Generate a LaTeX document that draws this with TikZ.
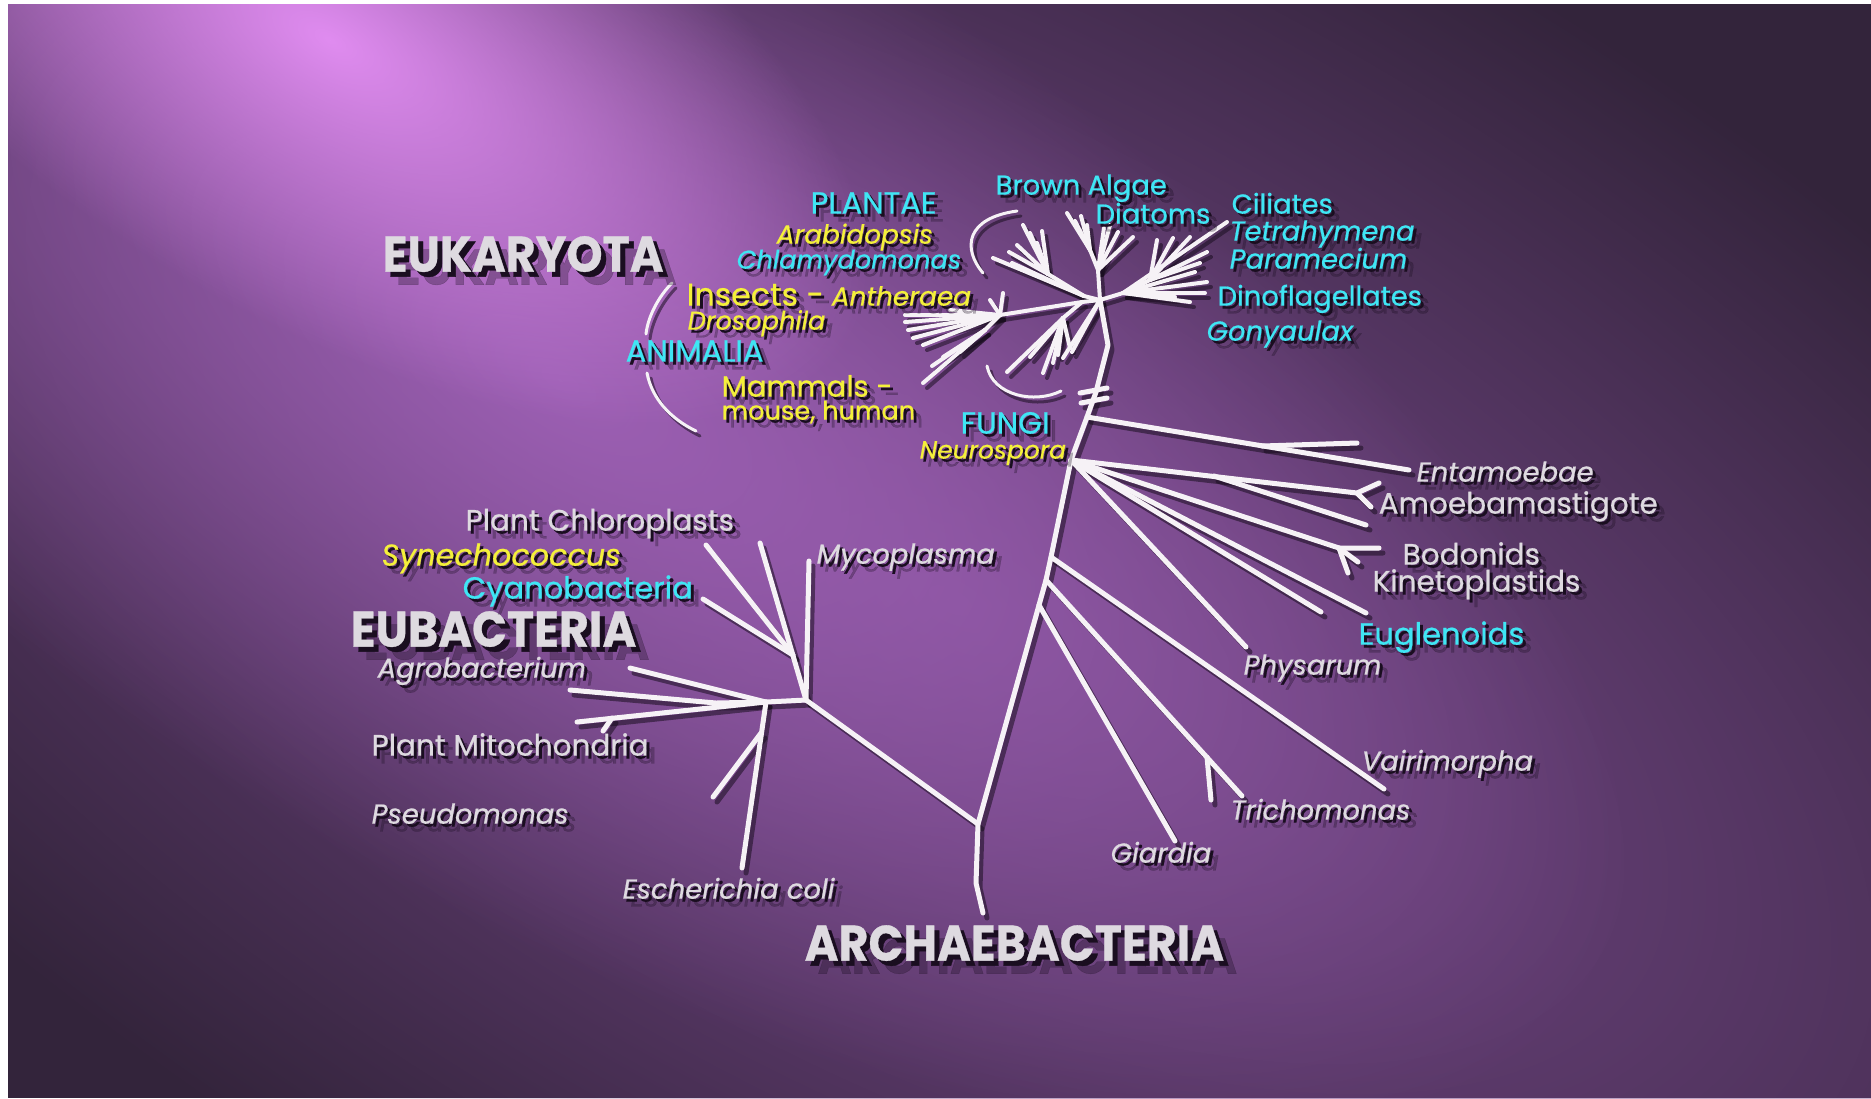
\documentclass[tikz,border=0pt]{standalone}
\usepackage{fontspec}
\usepackage{graphicx}
\setmainfont{Poppins}[FakeBold=0.6]
\usetikzlibrary{calc,fadings}

\definecolor{bgdark}{HTML}{33243B}
\definecolor{bgglow}{HTML}{7A4A8E}
\definecolor{bgmid}{HTML}{9D60B4}
\definecolor{bgspot}{HTML}{E08CF0}
\definecolor{twigwhite}{HTML}{F6F2F6}
\definecolor{shade}{HTML}{1A0E20}
\definecolor{greylbl}{HTML}{DEDAE0}
\definecolor{cyanlbl}{HTML}{3FE6F4}
\definecolor{yellowlbl}{HTML}{F4F03A}

\tikzfading[name=glowfade, inner color=transparent!0, outer color=transparent!100]

\tikzset{
  stem/.style={line width=0.5mm, line cap=round, line join=round},
  twig/.style={line width=0.4mm, line cap=round},
  bracket/.style={line width=0.3mm, line cap=round},
  lbl/.style={inner sep=0pt, anchor=mid west},
  biglbl/.style={lbl, text=greylbl, font=\fontsize{14.2}{16}\selectfont\bfseries},
  capslbl/.style={lbl, text=cyanlbl, font=\fontsize{8.7}{10}\selectfont},
  greylbl/.style={lbl, text=greylbl, font=\fontsize{8.4}{9}\selectfont},
  greyit/.style={lbl, text=greylbl, font=\fontsize{7.8}{9}\selectfont\itshape},
  cyanlbl/.style={lbl, text=cyanlbl, font=\fontsize{8.1}{9}\selectfont},
  cyanit/.style={lbl, text=cyanlbl, font=\fontsize{7.8}{9}\selectfont\itshape},
  yellowlbl/.style={lbl, text=yellowlbl, font=\fontsize{7.3}{9}\selectfont},
  yellowit/.style={lbl, text=yellowlbl, font=\fontsize{7.5}{9}\selectfont\itshape}
}

% label with its drop shadow: [offset]{name}{style}{x,y}{text}
\newcommand{\taxlabel}[5][3]{%
  \node[#3, text=shade, text opacity=0.3] at ($(#4)+(2.6*#1,2.6*#1)$) {#5};
  \node[#3, text=shade] at ($(#4)+(#1,#1)$) {#5};
  \node[#3] (#2) at (#4) {#5};}

\newcommand{\narrow}[1]{\scalebox{0.92}[1]{#1}}

% all branches of the tree, drawn once as shadow and once in white
\newcommand{\drawbranches}{%
  % archaea and main trunk
  \draw[stem] (arB) -- (ar1) -- (J0) -- (g1) -- (g2) -- (g3) -- (tB) -- (tC) -- (tD) -- (tE) -- (E0);
  % break marks
  \draw[stem] (bk1a) -- (bk1b);
  \draw[stem] (bk2a) -- (bk2b);
  % eubacteria
  \draw[stem] (J0) -- (EB) -- (myc);
  \draw[stem] (EB) -- (chlA);
  \draw[stem] (C1) -- (chlB);
  \draw[stem] (C1) -- (cya);
  \draw[stem] (EB) -- (E1) -- (agr);
  \draw[stem] (E1) -- (Em) -- (pmi);
  \draw[stem] (E1) -- (pse);
  \draw[stem] (Fk) -- (Fk2);
  \draw[stem] (E1) -- (eco);
  \draw[stem] (Ek) -- (ek2);
  % protists
  \draw[stem] (tC) -- (ent);
  \draw[stem] (entS) -- (ent2);
  \draw[stem] (tB) -- (amo) -- (amoA);
  \draw[stem] (amo) -- (amoB);
  \draw[stem] (amS) -- (am2);
  \draw[stem] (tB) -- (bod) -- (bodA);
  \draw[stem] (bod) -- (bodB);
  \draw[stem] (bod) -- (bodC);
  \draw[stem] (tB) -- (kin);
  \draw[stem] (tB) -- (kin2);
  \draw[stem] (tB) -- (phy);
  \draw[stem] (g3) -- (vai);
  \draw[stem] (g2) -- (tri);
  \draw[stem] (triS) -- (tri2);
  \draw[stem] (g1) -- (gia);
  % crown: plants
  \draw[twig] (E0) -- (P0) -- (P1);
  \foreach \x/\y in {993/258, 1012/263}
    \draw[twig] (P0) -- (\x,\y);
  \foreach \x/\y in {1017/245, 1023/225, 1030/233, 1037/243, 1042/231, 1009/252}
    \draw[twig] (P1) -- (\x,\y);
  % crown: diatoms, brown algae
  \draw[twig] (E0) -- (D1) -- (D2);
  \foreach \x/\y in {1067/213, 1075/221, 1081/216, 1087/225}
    \draw[twig] (D2) -- (\x,\y);
  \foreach \x/\y in {1104/228, 1110/225, 1118/232, 1133/237}
    \draw[twig] (D1) -- (\x,\y);
  % crown: ciliates, dinoflagellates
  \draw[twig] (E0) -- (Ci0) -- (tet);
  \draw[twig] (Ci0) -- (Ci1);
  \foreach \x/\y in {1190/237, 1173/238, 1157/240, 1207/252, 1200/263}
    \draw[twig] (Ci1) -- (\x,\y);
  \foreach \x/\y in {1207/282, 1205/293, 1190/302, 1175/297, 1195/272}
    \draw[twig] (Ci0) -- (\x,\y);
  % crown: animals, fungi
  \draw[twig] (E0) -- (A0) -- (A1) -- (A2);
  \foreach \x/\y in {905/315, 905/322, 908/330, 913/338, 923/345, 990/300, 1003/293, 950/310}
    \draw[twig] (A1) -- (\x,\y);
  \foreach \x/\y in {923/383, 932/366, 943/357, 960/352}
    \draw[twig] (A2) -- (\x,\y);
  \draw[twig] (A0) -- (A3);
  \foreach \x/\y in {1007/372, 1030/357, 1043/373, 1053/363, 1058/355, 1070/348}
    \draw[twig] (A3) -- (\x,\y);
  \foreach \x/\y in {1063/358, 1072/352}
    \draw[twig] (E0) -- (\x,\y);
  % brackets
  \draw[bracket] (pl1) .. controls (966,218) and (962,248) .. (pl2);
  \draw[bracket] (fu1) .. controls (993,396) and (1035,404) .. (fu2);
  \draw[bracket] (an1) .. controls (659,296) and (648,316) .. (an2);
  \draw[bracket] (an3) .. controls (652,399) and (671,419) .. (an4);
}

\begin{document}
\begin{tikzpicture}[x=0.1mm, y=-0.1mm]

	\useasboundingbox (0,0) rectangle (1871,1098);

	% background

	\fill[white] (0,0) rectangle (1871,1098);

	\begin{scope}
		\clip (8,4) rectangle (1871,1098);
		\fill[bgdark] (8,4) rectangle (1871,1098);
		\begin{scope}[transform canvas={shift={(950,600)}, rotate=-28}]
			\fill[bgglow, path fading=glowfade] (0,0) ellipse [x radius=1750, y radius=820];
		\end{scope}
		\begin{scope}[transform canvas={shift={(560,380)}, rotate=-30}]
			\fill[bgmid, path fading=glowfade] (0,0) ellipse [x radius=1200, y radius=520];
		\end{scope}
		\begin{scope}[transform canvas={shift={(330,40)}, rotate=-30}]
			\fill[bgspot, path fading=glowfade] (0,0) ellipse [x radius=600, y radius=280];
		\end{scope}
	\end{scope}

	% define points

	\coordinate (arB) at (983,913);
	\coordinate (ar1) at (976,883);
	\coordinate (J0)  at (978,824);
	\coordinate (g1)  at (1039,605);
	\coordinate (g2)  at (1046,580);
	\coordinate (g3)  at (1051,557);
	\coordinate (tB)  at (1071,460);
	\coordinate (tC)  at (1087,417);
	\coordinate (tD)  at (1096,392);
	\coordinate (tE)  at (1108,345);
	\coordinate (E0)  at (1100,300);

	\coordinate (bk1a) at (1080,393);
	\coordinate (bk1b) at (1107,388);
	\coordinate (bk2a) at (1081,403);
	\coordinate (bk2b) at (1107,398);

	\coordinate (EB)   at (806,700);
	\coordinate (myc)  at (809,561);
	\coordinate (chlA) at (760,543);
	\coordinate (C1)   at (793,655);
	\coordinate (chlB) at (706,545);
	\coordinate (cya)  at (703,599);
	\coordinate (E1)   at (766,702);
	\coordinate (agr)  at (630,668);
	\coordinate (Em)   at (716,703);
	\coordinate (pmi)  at (570,690);
	\coordinate (pse)  at (577,722);
	\coordinate (Fk)   at (612,718);
	\coordinate (Fk2)  at (603,731);
	\coordinate (eco)  at (742,868);
	\coordinate (Ek)   at (761,733);
	\coordinate (ek2)  at (713,797);

	\coordinate (ent)  at (1409,470);
	\coordinate (entS) at (1262,446);
	\coordinate (ent2) at (1357,443);
	\coordinate (amo)  at (1357,493);
	\coordinate (amoA) at (1379,483);
	\coordinate (amoB) at (1371,507);
	\coordinate (amS)  at (1214,476);
	\coordinate (am2)  at (1366,525);
	\coordinate (bod)  at (1339,548);
	\coordinate (bodA) at (1379,548);
	\coordinate (bodB) at (1358,562);
	\coordinate (bodC) at (1348,573);
	\coordinate (kin)  at (1366,613);
	\coordinate (kin2) at (1321,612);
	\coordinate (phy)  at (1246,647);
	\coordinate (vai)  at (1384,789);
	\coordinate (tri)  at (1242,796);
	\coordinate (triS) at (1207,757);
	\coordinate (tri2) at (1211,800);
	\coordinate (gia)  at (1175,841);

	\coordinate (P0)  at (1084,296);
	\coordinate (P1)  at (1048,274);
	\coordinate (D1)  at (1098,270);
	\coordinate (D2)  at (1090,250);
	\coordinate (Ci0) at (1123,293);
	\coordinate (Ci1) at (1150,280);
	\coordinate (tet) at (1227,222);
	\coordinate (A0)  at (1082,302);
	\coordinate (A1)  at (1000,315);
	\coordinate (A2)  at (985,330);
	\coordinate (A3)  at (1063,318);

	\coordinate (pl1) at (1017,211);
	\coordinate (pl2) at (983,273);
	\coordinate (fu1) at (987,366);
	\coordinate (fu2) at (1061,391);
	\coordinate (an1) at (672,283);
	\coordinate (an2) at (646,334);
	\coordinate (an3) at (647,373);
	\coordinate (an4) at (696,431);

	% tree

	\begin{scope}[transform canvas={shift={(4,5)}}, color=shade, opacity=0.55]
		\drawbranches
	\end{scope}
	\begin{scope}[color=twigwhite]
		\drawbranches
	\end{scope}

	% labels

	\taxlabel[5]{euk}{biglbl}{382,262}{\narrow{EUKARYOTA}}
	\taxlabel[5]{eub}{biglbl}{350,637}{\narrow{EUBACTERIA}}
	\taxlabel[5]{arc}{biglbl}{804,951}{\narrow{ARCHAEBACTERIA}}

	\taxlabel{plantae}{capslbl}{810,204}{PLANTAE}
	\taxlabel{animalia}{capslbl}{625,352}{ANIMALIA}
	\taxlabel{fungi}{capslbl}{960,424}{FUNGI}

	\taxlabel{arab}{yellowit}{776,234}{Arabidopsis}
	\taxlabel{chlam}{cyanit}{736,259}{\fontsize{7.3}{9}\selectfont Chlamydomonas}
	\taxlabel{insects}{yellowit}{686,296}{{\upshape\fontsize{9}{10}\selectfont Insects -} Antheraea}
	\taxlabel{droso}{yellowit}{687,320}{\fontsize{7.3}{9}\selectfont Drosophila}
	\taxlabel{mammals}{yellowlbl}{721,387}{\fontsize{8.3}{10}\selectfont Mammals -}
	\taxlabel{mouse}{yellowlbl}{721,410}{mouse, human}
	\taxlabel{neuro}{yellowit}{919,449}{\fontsize{7.1}{9}\selectfont Neurospora}

	\taxlabel{brown}{cyanlbl}{995,185}{\fontsize{7.8}{9}\selectfont Brown Algae}
	\taxlabel{diatoms}{cyanlbl}{1095,214}{\fontsize{7.8}{9}\selectfont Diatoms}
	\taxlabel{ciliates}{cyanlbl}{1231,204}{\fontsize{7.8}{9}\selectfont Ciliates}
	\taxlabel{tetra}{cyanit}{1229,231}{Tetrahymena}
	\taxlabel{param}{cyanit}{1229,259}{Paramecium}
	\taxlabel{dino}{cyanlbl}{1217,296}{\fontsize{7.8}{9}\selectfont Dinoflagellates}
	\taxlabel{gony}{cyanit}{1206,331}{Gonyaulax}

	\taxlabel{entam}{greyit}{1416,472}{Entamoebae}
	\taxlabel{amoeba}{greylbl}{1378,504}{Amoebamastigote}
	\taxlabel{bodo}{greylbl}{1402,555}{Bodonids}
	\taxlabel{kineto}{greylbl}{1372,582}{Kinetoplastids}
	\taxlabel{eugl}{cyanlbl}{1358,635}{\fontsize{8.7}{9}\selectfont Euglenoids}
	\taxlabel{physa}{greyit}{1243,665}{Physarum}
	\taxlabel{vairi}{greyit}{1361,761}{Vairimorpha}
	\taxlabel{tricho}{greyit}{1230,810}{Trichomonas}
	\taxlabel{giard}{greyit}{1110,853}{Giardia}

	\taxlabel{ecoli}{greyit}{622,889}{Escherichia coli}
	\taxlabel{pseudo}{greyit}{371,814}{Pseudomonas}
	\taxlabel{mito}{greylbl}{371,746}{Plant Mitochondria}
	\taxlabel{agro}{greyit}{377,668}{Agrobacterium}
	\taxlabel{cyano}{cyanlbl}{462,589}{\fontsize{8.7}{9}\selectfont Cyanobacteria}
	\taxlabel{syne}{yellowit}{381,556}{\fontsize{8.6}{9}\selectfont Synechococcus}
	\taxlabel{chloro}{greylbl}{465,521}{Plant Chloroplasts}
	\taxlabel{myco}{greyit}{816,554}{Mycoplasma}

\end{tikzpicture}
\end{document}
